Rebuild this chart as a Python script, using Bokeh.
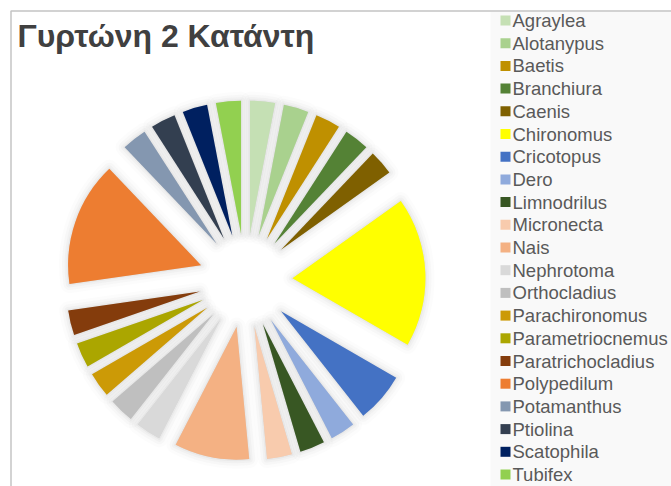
import numpy as np
from bokeh.plotting import figure
from bokeh.models import Range1d, ColumnDataSource
from bokeh.core.properties import value
from bokeh.embed import file_html
from bokeh.resources import INLINE

title = "Γυρτώνη 2 Κατάντη"
categories = ["Agraylea", "Alotanypus", "Baetis", "Branchiura", "Caenis",
              "Chironomus", "Cricotopus", "Dero", "Limnodrilus", "Micronecta",
              "Nais", "Nephrotoma", "Orthocladius", "Parachironomus",
              "Parametriocnemus", "Paratrichocladius", "Polypedilum",
              "Potamanthus", "Ptiolina", "Scatophila", "Tubifex"]
counts = [1, 1, 1, 1, 1, 6, 2, 1, 1, 1, 3, 1, 1, 1, 1, 1, 5, 1, 1, 1, 1]
colors = ["#c5e0b4", "#a9d18e", "#bf9000", "#548235", "#7f6000",
          "#ffff00", "#4472c4", "#8faadc", "#385723", "#f8cbad",
          "#f4b183", "#d9d9d9", "#bfbfbf", "#cc9a06",
          "#aba600", "#843c0c", "#ed7d31",
          "#8497b0", "#333f50", "#002060", "#92d050"]

W, H = 671, 486
CX, CY = 245, 280        # pie centre (screen px)
R = 133                  # slice radius
EXPLODE = 47             # explosion offset

def sy(y):
    return H - np.asarray(y, dtype=float)

vals = np.array(counts, dtype=float)
frac = vals / vals.sum()
cum = np.concatenate([[0], np.cumsum(frac)])
start = np.pi / 2 - 2 * np.pi * cum[:-1]
end = np.pi / 2 - 2 * np.pi * cum[1:]
mid = (start + end) / 2
xs = CX + EXPLODE * np.cos(mid)
ys = sy(CY) + EXPLODE * np.sin(mid)

src = ColumnDataSource(dict(x=xs, y=ys, start=start, end=end, color=colors, name=categories))

p = figure(width=W, height=H, output_backend="svg", toolbar_location=None,
           x_range=Range1d(0, W), y_range=Range1d(0, H), min_border=0)
p.axis.visible = False
p.grid.visible = False
p.outline_line_color = None
p.background_fill_color = "white"
p.border_fill_color = "white"

# legend background + chart border
p.quad(left=[490], right=[W], bottom=[0], top=[sy(11)], fill_color="#f9f9f9", line_color=None)
p.line(x=[10.5, 10.5, W], y=[0, sy(10.5), sy(10.5)], line_color="#c4c4c4", line_width=1.5)

# soft shadow
for lw, a in [(18, 0.025), (12, 0.035), (7, 0.045), (3, 0.06)]:
    p.wedge(x="x", y="y", radius=R, start_angle="start", end_angle="end",
            direction="clock", source=src, fill_color="#7a7a7a", fill_alpha=a,
            line_color="#7a7a7a", line_alpha=a, line_width=lw, line_join="round")

p.wedge(x="x", y="y", radius=R, start_angle="start", end_angle="end",
        direction="clock", source=src, fill_color="color", line_color=None)

# title
p.text(x=[17], y=[sy(35)], text=[title], text_font=value("Liberation Sans"),
       text_font_size="32px", text_font_style="bold", text_color="#404040",
       text_baseline="middle")

# legend
n = len(categories)
ly = sy(20 + 22.7 * np.arange(n))
p.rect(x=[505] * n, y=ly, width=10, height=10, fill_color=colors, line_color=None)
p.text(x=[512] * n, y=ly, text=categories, text_font=value("Liberation Sans"),
       text_font_size="18.5px", text_color="#595959", text_baseline="middle")

open("out.html", "w").write(file_html(p, INLINE))
